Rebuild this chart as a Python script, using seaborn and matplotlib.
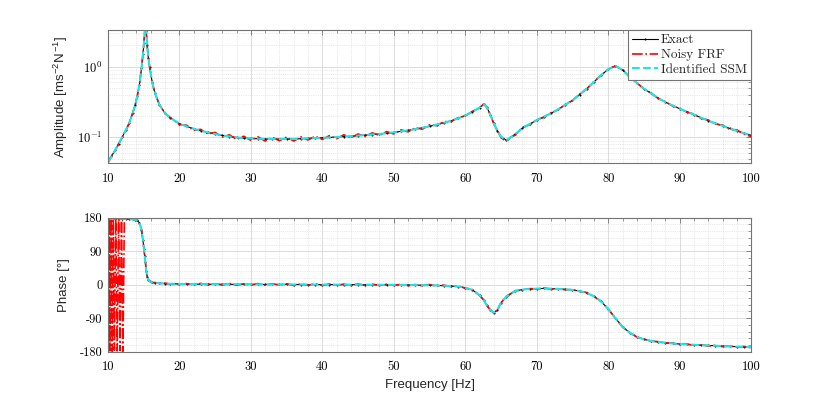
import matplotlib
matplotlib.use('Agg')
import numpy as np
import pandas as pd
import seaborn as sns
import matplotlib.pyplot as plt
from matplotlib.ticker import MultipleLocator, LogLocator, FixedLocator, FixedFormatter, NullFormatter

# frequency grid [Hz] for the exact / identified curves
freq = [10, 10.5, 11, 11.5, 12, 12.5,
        13, 13.5, 13.8, 14.1, 14.4, 14.7, 14.9, 15.05, 15.15, 15.25, 15.35, 15.5, 15.65, 15.85, 16.2, 16.6, 17.2, 18, 18.7,
        20, 21, 22, 23, 24, 25, 26, 27, 28, 29, 30, 31, 32, 33, 34, 35, 36, 37, 38, 39, 40,
        41, 42, 43, 44, 45, 46, 47, 48, 49, 50, 51, 52, 53, 54, 55, 56, 57, 58, 59, 60, 61, 62,
        62.6, 63, 63.5, 64, 64.5, 65, 65.7, 66,
        67, 68, 69, 70, 71, 72, 73, 74, 75, 76, 77, 78, 79, 80, 81, 82, 83, 84, 85, 86,
        87, 88, 89, 90, 91, 92, 93, 94, 95, 96, 97, 98, 99, 100]

amp_exact = [0.044, 0.054, 0.066, 0.081, 0.101, 0.127,
             0.162, 0.225, 0.285, 0.38, 0.55, 0.95, 1.5, 2.2, 3.2, 4.5, 3.2, 2.0, 1.35, 0.98, 0.6, 0.42, 0.29, 0.22, 0.19,
             0.157, 0.143, 0.133, 0.124, 0.118, 0.112, 0.107, 0.103, 0.100, 0.098,
             0.097, 0.096, 0.095, 0.095, 0.095, 0.095, 0.095, 0.096, 0.097, 0.098,
             0.099, 0.100, 0.101, 0.103, 0.104, 0.106, 0.108, 0.110, 0.112, 0.115,
             0.118, 0.122, 0.126, 0.131, 0.137, 0.144, 0.152, 0.161, 0.172, 0.186,
             0.205, 0.23, 0.265,
             0.296, 0.27, 0.21, 0.158, 0.123, 0.103, 0.092, 0.094,
             0.112, 0.135, 0.155, 0.175, 0.196, 0.22, 0.25, 0.29, 0.335, 0.405,
             0.49, 0.61, 0.76, 0.92, 1.03, 0.9, 0.72, 0.59, 0.49, 0.42,
             0.36, 0.315, 0.283, 0.255, 0.232, 0.21, 0.19, 0.173, 0.158, 0.146,
             0.134, 0.124, 0.115, 0.107]

phase_exact = [178.5, 178.3, 178, 177.8, 177.5, 177,
               176.5, 175.5, 174.5, 173, 167, 148, 120, 95, 78, 60, 38, 22, 14, 9, 6, 5, 4, 3, 2.5,
               2, 1.8, 1.6, 1.5, 1.4, 1.3,
               1.2, 1.1, 1.0, 1.0, 0.9, 0.9, 0.8, 0.8, 0.7, 0.7, 0.6, 0.6, 0.5, 0.5, 0.4, 0.4, 0.3, 0.3, 0.2, 0.1, 0.0, -0.1, -0.2, -0.3,
               -0.4, -0.6, -0.8, -1.0, -1.3, -1.6, -2.0, -2.6, -3.4, -5, -8, -14, -28,
               -42, -55, -68, -75, -68, -48, -33, -28,
               -17, -13, -11.5, -10.5, -10, -10.5, -11.5, -12.5, -14, -17,
               -22, -31, -45, -65, -90, -113, -129, -140, -147, -151,
               -154, -156, -158, -159.5, -160.5, -161.5, -162.5, -163.3, -164, -165,
               -165.8, -166.5, -167.2, -168]

# noisy FRF: low-frequency part where the phase wraps around +-180
freq_noisy_low = [10.0, 10.1, 10.2, 10.3, 10.45, 10.6, 10.75, 10.9, 11.1, 11.3, 11.5, 11.7, 11.9, 12.1, 12.3, 12.45]
amp_noisy_low = [0.043, 0.047, 0.047, 0.051, 0.052, 0.057, 0.058, 0.063, 0.068, 0.074, 0.082, 0.088, 0.097, 0.105, 0.117, 0.121]
phase_noisy_low = [178, -177, 179, -178, 177, -179, 178, -176, 179, -178, 177, -177, 178, -179, 178, 177]

# noisy FRF from 13 Hz upwards (same frequencies as freq[6:])
amp_noisy_high = [0.161, 0.229, 0.281, 0.385, 0.545, 0.96, 1.48, 2.25, 3.15, 4.6, 3.25, 1.97, 1.37, 0.97, 0.605, 0.415, 0.294, 0.217, 0.193,
                  0.152, 0.149, 0.127, 0.130, 0.112, 0.118, 0.101, 0.109, 0.094, 0.104,
                  0.091, 0.102, 0.089, 0.100, 0.090, 0.101, 0.089, 0.102, 0.092, 0.104,
                  0.094, 0.106, 0.096, 0.109, 0.099, 0.112, 0.103, 0.116, 0.107, 0.121,
                  0.112, 0.128, 0.120, 0.137, 0.131, 0.151, 0.147, 0.167, 0.168, 0.19,
                  0.201, 0.234, 0.261,
                  0.299, 0.266, 0.213, 0.155, 0.126, 0.1, 0.088, 0.097,
                  0.108, 0.139, 0.151, 0.179, 0.192, 0.224, 0.246, 0.294, 0.331, 0.41,
                  0.485, 0.615, 0.755, 0.925, 1.025, 0.905, 0.715, 0.595, 0.485, 0.425,
                  0.355, 0.32, 0.279, 0.259, 0.228, 0.214, 0.186, 0.177, 0.154, 0.15,
                  0.13, 0.128, 0.111, 0.103]
phase_noisy_high = [176, 176.5, 173.5, 174, 166, 149, 119, 96, 77, 61, 37, 23, 13, 10, 5, 6, 3, 4.5, 1.5,
                    0.5, 3, 0, 3.5, -0.5, 3, -1, 3.5, -1.5, 2.5,
                    -1, 3, -1.5, 2.5, -1, 2.5, -2, 2, -1.5, 2.5,
                    -2, 2, -1.5, 1.5, -2, 2, -2, 1.5, -2, 1.5,
                    -2, 1, -2.5, 0.5, -3, 0.5, -3.5, -1, -5, -3.5,
                    -9.5, -13, -29,
                    -41, -56, -67, -77, -67, -49, -32, -29,
                    -16, -14, -10.5, -11.5, -9, -11.5, -10.5, -13.5, -13, -18,
                    -21, -32, -44, -66, -89, -114, -128, -141, -146, -152,
                    -153, -157, -157, -161, -159.5, -163, -161.5, -165, -163, -166.5,
                    -165, -168, -166, -169.5]

x_ticks = [10, 20, 30, 40, 50, 60, 70, 80, 90, 100]
phase_ticks = [-180, -90, 0, 90, 180]

sns.set_style('white')
plt.rcParams['mathtext.fontset'] = 'cm'
plt.rcParams['font.family'] = ['Liberation Sans', 'DejaVu Sans']

AX_COL = '0.45'


def style_axes(ax):
    ax.set_xlim(10, 100)
    ax.xaxis.set_major_locator(FixedLocator(x_ticks))
    ax.xaxis.set_minor_locator(MultipleLocator(2))
    ax.xaxis.set_major_formatter(FixedFormatter([str(t) for t in x_ticks]))
    ax.grid(which='major', color='#dcdcdc', linewidth=0.7, linestyle='-')
    ax.grid(which='minor', color='#d4d4d4', linewidth=0.5, linestyle=':')
    ax.set_axisbelow(True)
    ax.tick_params(which='both', direction='in', top=True, right=True, colors=AX_COL,
                   labelcolor='black', labelsize=9)
    ax.tick_params(axis='x', which='major', pad=7)
    ax.tick_params(axis='y', which='major', pad=4)
    ax.tick_params(which='major', length=3.5, width=0.6)
    ax.tick_params(which='minor', length=2, width=0.5)
    for s in ax.spines.values():
        s.set_color(AX_COL)
        s.set_linewidth(0.8)
    for lab in ax.get_xticklabels() + ax.get_yticklabels():
        lab.set_fontfamily('cmr10')


df_exact = pd.DataFrame({'freq': freq, 'amp': amp_exact, 'phase': phase_exact})
df_noisy = pd.DataFrame({'freq': freq_noisy_low + freq[6:],
                         'amp': amp_noisy_low + amp_noisy_high,
                         'phase': phase_noisy_low + phase_noisy_high})
# the identified state-space model overlays the exact response
df_ssm = df_exact.copy()

fig = plt.figure(figsize=(8.3, 3.96), dpi=100)
ax1 = fig.add_axes([0.130, 0.588, 0.775, 0.336])
ax2 = fig.add_axes([0.130, 0.112, 0.775, 0.338])

for ax, col in [(ax1, 'amp'), (ax2, 'phase')]:
    sns.lineplot(data=df_exact, x='freq', y=col, ax=ax, color='black', linewidth=0.8,
                 marker='.', markersize=3, markeredgewidth=0, label='Exact', estimator=None, sort=False)
    sns.lineplot(data=df_noisy, x='freq', y=col, ax=ax, color='red', linewidth=1.2,
                 linestyle='-.', label='Noisy FRF', estimator=None, sort=False)
    sns.lineplot(data=df_ssm, x='freq', y=col, ax=ax, color='#1ee6e6', linewidth=1.5,
                 linestyle='--', label='Identified SSM', estimator=None, sort=False)

# amplitude
ax1.set_yscale('log')
ax1.set_ylim(0.0433, 3.3)
ax1.yaxis.set_major_locator(FixedLocator([0.1, 1.0]))
ax1.yaxis.set_major_formatter(FixedFormatter([r'$10^{-1}$', r'$10^{0}$']))
ax1.yaxis.set_minor_locator(LogLocator(base=10, subs=np.arange(2, 10)))
ax1.yaxis.set_minor_formatter(NullFormatter())
ax1.set_xlabel('')
ax1.set_ylabel(r'Amplitude [ms$^{\mathregular{-2}}$N$^{\mathregular{-1}}$]', fontsize=9.5)
style_axes(ax1)

leg = ax1.legend(loc='upper right', borderaxespad=0, fancybox=False, framealpha=1,
                 handlelength=2.0, handletextpad=0.2, borderpad=0.3, labelspacing=0.2,
                 prop={'family': 'cmr10', 'size': 9.5})
leg.get_frame().set_edgecolor(AX_COL)
leg.get_frame().set_linewidth(0.8)

# phase
ax2.set_ylim(-180, 180)
ax2.yaxis.set_major_locator(FixedLocator(phase_ticks))
ax2.yaxis.set_major_formatter(FixedFormatter([str(t) for t in phase_ticks]))
ax2.yaxis.set_minor_locator(MultipleLocator(18))
if ax2.get_legend() is not None:
    ax2.get_legend().remove()
ax2.set_xlabel('Frequency [Hz]', fontsize=9.5)
ax2.set_ylabel('Phase [°]', fontsize=9.5)
style_axes(ax2)

for ax in (ax1, ax2):
    ax.yaxis.set_label_coords(-0.059, 0.5)

fig.savefig('out.png', dpi=100)
